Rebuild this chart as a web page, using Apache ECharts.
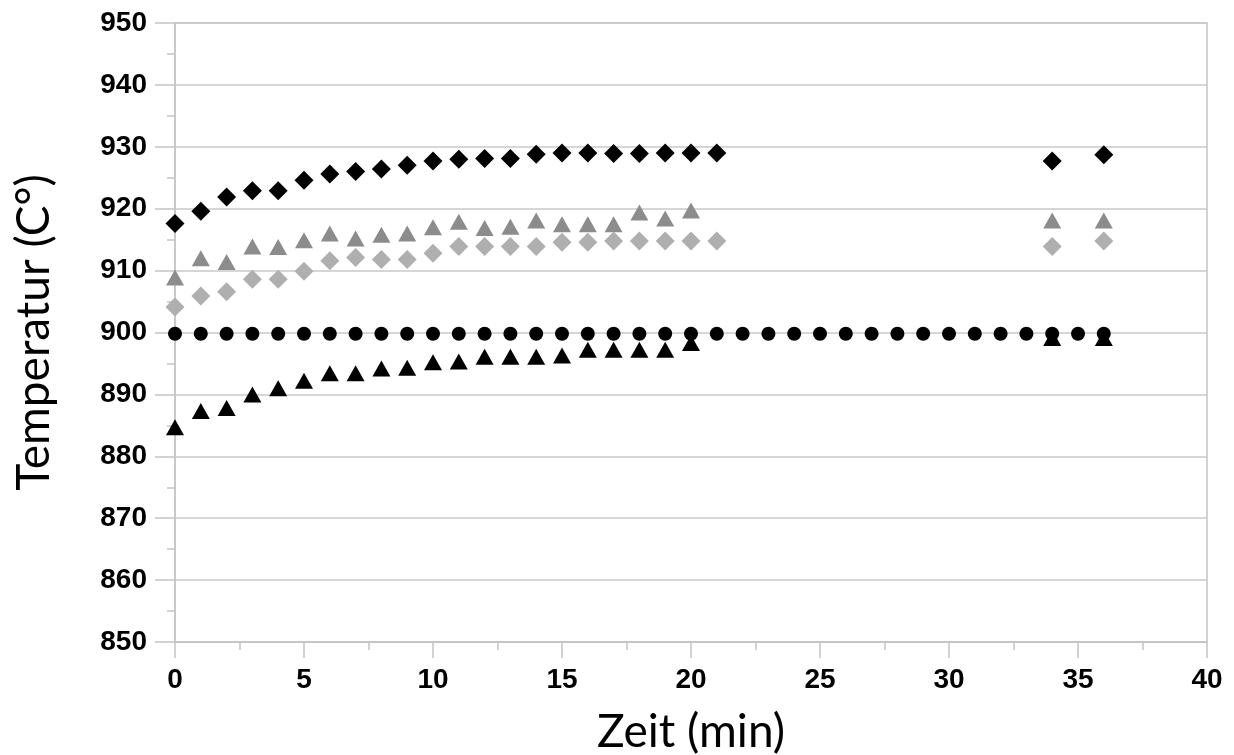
<!DOCTYPE html>
<html>
<head>
<meta charset="utf-8">
<script src="https://cdn.jsdelivr.net/npm/echarts@6/dist/echarts.min.js"></script>
<style>
  html, body { margin: 0; padding: 0; background: #fff; }
  #chart { width: 1234px; height: 755px; }
</style>
</head>
<body>
<div id="chart"></div>
<script>
// Zeit in Minuten
const zeitKurz = [0,1,2,3,4,5,6,7,8,9,10,11,12,13,14,15,16,17,18,19,20,21,34,36];
const zeitMitte = [0,1,2,3,4,5,6,7,8,9,10,11,12,13,14,15,16,17,18,19,20,34,36];
const zeitLang = [0,1,2,3,4,5,6,7,8,9,10,11,12,13,14,15,16,17,18,19,20,21,22,23,24,25,26,27,28,29,30,31,32,33,34,35,36];

// Temperaturen (°C)
const rauteSchwarz = [917.6,919.6,921.9,922.9,922.9,924.6,925.6,926.0,926.4,927.0,927.7,928.0,928.1,928.1,928.8,929.0,929.0,928.9,928.9,929.0,929.0,929.0,927.7,928.7];
const dreieckGrau = [908.9,912.0,911.4,913.9,913.8,914.9,916.0,915.2,915.8,916.0,917.0,917.9,916.9,917.1,918.1,917.5,917.5,917.5,919.4,918.4,919.7,918.1,918.1];
const rauteHellgrau = [904.1,905.9,906.6,908.6,908.6,909.9,911.6,912.1,911.8,911.8,912.8,913.9,913.9,913.9,913.9,914.6,914.6,914.8,914.8,914.8,914.8,914.8,913.9,914.8];
const kreisSchwarz = [899.8,899.8,899.8,899.8,899.8,899.8,899.8,899.8,899.8,899.8,899.8,899.8,899.8,899.8,899.8,899.8,899.8,899.8,899.8,899.8,899.8,899.8,899.8,899.8,899.8,899.8,899.8,899.8,899.8,899.8,899.8,899.8,899.8,899.8,899.8,899.8,899.8];
const dreieckSchwarz = [884.7,887.3,887.8,890.0,891.0,892.2,893.4,893.4,894.2,894.3,895.2,895.3,896.1,896.1,896.1,896.3,897.2,897.2,897.2,897.2,898.3,899.1,899.1];

const pairs = (xs, ys) => xs.map((x, i) => [x, ys[i]]);

const tickFont = { fontFamily: 'Liberation Sans, Arial, sans-serif', fontWeight: 'bold', fontSize: 28, color: '#000' };
const titleFont = { fontFamily: 'Lato, "Open Sans", sans-serif', fontWeight: 'normal', fontSize: 46, color: '#000' };
const achsGrau = '#c4c4c4';

const chart = echarts.init(document.getElementById('chart'), null, { renderer: 'canvas' });
chart.setOption({
  animation: false,
  backgroundColor: '#fff',
  grid: { left: 175, right: 27, top: 23, bottom: 113, show: true, borderColor: achsGrau, borderWidth: 1.5,
          containLabel: false, outerBoundsMode: 'none' },
  xAxis: {
    type: 'value', min: 0, max: 40, interval: 5,
    name: 'Zeit (min)', nameLocation: 'middle', nameGap: 67, nameTextStyle: titleFont,
    axisLine: { show: true, lineStyle: { color: achsGrau, width: 1.5 } },
    axisTick: { show: true, length: 16, lineStyle: { color: achsGrau, width: 1.5 } },
    minorTick: { show: true, splitNumber: 2, length: 8, lineStyle: { color: achsGrau, width: 1.5 } },
    axisLabel: Object.assign({ margin: 24 }, tickFont),
    splitLine: { show: false }
  },
  yAxis: {
    type: 'value', min: 850, max: 950, interval: 10,
    name: 'Temperatur (C°)', nameLocation: 'middle', nameGap: 118, nameRotate: 90, nameTextStyle: titleFont,
    axisLine: { show: true, lineStyle: { color: achsGrau, width: 1.5 } },
    axisTick: { show: true, length: 20, lineStyle: { color: achsGrau, width: 1.5 } },
    minorTick: { show: true, splitNumber: 2, length: 8, lineStyle: { color: achsGrau, width: 1.5 } },
    axisLabel: Object.assign({ margin: 28 }, tickFont),
    splitLine: { show: true, lineStyle: { color: '#c8c8c8', width: 1.5 } }
  },
  series: [
    { name: 'Raute schwarz', type: 'scatter', symbol: 'diamond', symbolSize: [19, 19],
      itemStyle: { color: '#000', opacity: 1 }, data: pairs(zeitKurz, rauteSchwarz) },
    { name: 'Dreieck grau', type: 'scatter', symbol: 'triangle', symbolSize: [18, 16],
      itemStyle: { color: '#8c8c8c', opacity: 1 }, data: pairs(zeitMitte, dreieckGrau) },
    { name: 'Raute hellgrau', type: 'scatter', symbol: 'diamond', symbolSize: [19, 19],
      itemStyle: { color: '#afafaf', opacity: 1 }, data: pairs(zeitKurz, rauteHellgrau) },
    { name: 'Dreieck schwarz', type: 'scatter', symbol: 'triangle', symbolSize: [18, 16],
      itemStyle: { color: '#000', opacity: 1 }, data: pairs(zeitMitte, dreieckSchwarz) },
    { name: 'Kreis schwarz', type: 'scatter', symbol: 'circle', symbolSize: 14,
      itemStyle: { color: '#000', opacity: 1 }, data: pairs(zeitLang, kreisSchwarz) }
  ]
});
</script>
</body>
</html>
